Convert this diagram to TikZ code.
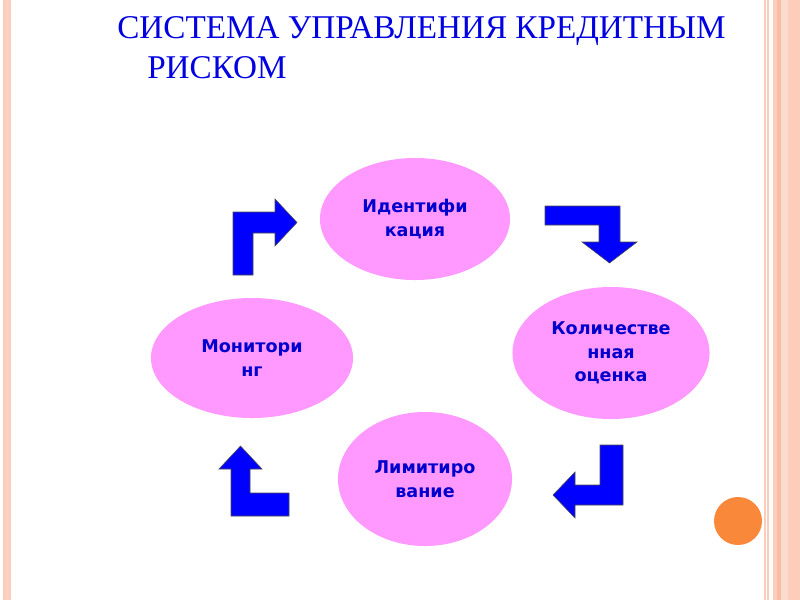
\documentclass[tikz,border=0pt]{standalone}
\usepackage{fontspec}
\setmainfont{Liberation Serif}
\newfontfamily\stagefont{DejaVu Sans}
\usetikzlibrary{shapes.geometric}
\definecolor{stagepink}{HTML}{FF99FF}
\definecolor{stageblue}{HTML}{0000CC}
\definecolor{titleblue}{HTML}{0000E0}
\definecolor{turnblue}{HTML}{0000FF}
\definecolor{edgepeach}{HTML}{FCCDBA}
\definecolor{edgesalmon}{HTML}{F5AE8F}
\definecolor{dotorange}{HTML}{F9883A}

\begin{document}
\begin{tikzpicture}[x=0.025cm, y=-0.025cm,
    stage/.style={ellipse, fill=stagepink, inner sep=0pt, align=center,
                  text=stageblue, font=\stagefont\bfseries\fontsize{12.5}{16.7}\selectfont},
    turn/.style={fill=turnblue, draw=black!70, line width=0.4pt, line join=miter},
    heading/.style={anchor=base west, inner sep=0pt, text=titleblue,
                    font=\fontsize{23.6}{28}\selectfont},
  ]
  \useasboundingbox (0,0) rectangle (800,600);
  % slide border
  \fill[edgepeach] (3,0) rectangle (11,600);
  \fill[edgesalmon!55] (5.5,0) rectangle (8.5,600);
  \fill[edgepeach] (764,0) rectangle (765.5,600);
  \fill[edgepeach] (767,0) rectangle (768.5,600);
  \fill[edgepeach] (773,0) rectangle (800,600);
  \fill[edgesalmon!80] (777,0) rectangle (781,600);
  \fill[edgesalmon!45] (781,0) rectangle (788,600);
  \fill[dotorange] (738,521) circle [radius=24];

  % title
  \node[heading] (title1) at (117,38) {СИСТЕМА УПРАВЛЕНИЯ КРЕДИТНЫМ};
  \node[heading] (title2) at (147,78) {РИСКОМ};

  % stages
  \node[stage, minimum width=4.75cm, minimum height=3.05cm] (ident) at (415,219) {Идентифи\\кация};
  \node[stage, minimum width=4.925cm, minimum height=3.3cm] (quant) at (611,353) {Количестве\\нная\\оценка};
  \node[stage, minimum width=4.35cm, minimum height=3.35cm] (limit) at (425,479) {Лимитиро\\вание};
  \node[stage, minimum width=5.05cm, minimum height=3cm] (monit) at (252,358) {Монитори\\нг};

  % bent arrows
  \draw[turn] (233,275) -- (233,212) -- (275,212) -- (275,199) -- (297,222.5)
    -- (275,246) -- (275,233) -- (253,233) -- (253,275) -- cycle;
  \draw[turn] (545,206) -- (620,206) -- (620,242) -- (637,242) -- (609.5,263)
    -- (582,242) -- (599,242) -- (599,225) -- (545,225) -- cycle;
  \draw[turn] (600,445) -- (623,445) -- (623,505) -- (575,505) -- (575,518)
    -- (553,495) -- (575,472) -- (575,485) -- (600,485) -- cycle;
  \draw[turn] (289,516) -- (231,516) -- (231,469) -- (219,469) -- (240.5,446)
    -- (262,469) -- (250,469) -- (250,493) -- (289,493) -- cycle;
\end{tikzpicture}
\end{document}
